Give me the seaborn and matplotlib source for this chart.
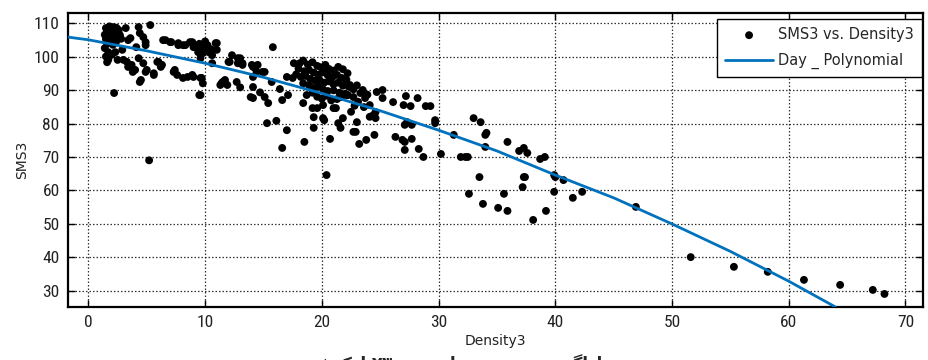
import numpy as np
import pandas as pd
import matplotlib
matplotlib.use("Agg")
import matplotlib.pyplot as plt
from matplotlib import font_manager
import seaborn as sns

# ---------------- data ----------------
density = [
    1.5, 1.8, 2.1, 2.4, 1.6, 1.9, 2.2, 2.6, 1.4, 1.7, 2.0, 2.3, 2.7, 1.5, 1.9, 2.4, 2.8, 1.6, 2.1, 1.4,
    1.7, 2.3, 2.9, 1.5, 1.7, 2.5, 1.6, 2.0, 2.2,
    3.2, 3.4, 3.6, 3.0, 3.3, 3.4, 3.7, 3.8, 4.0, 4.3, 4.4, 4.7, 4.9, 4.9, 4.1, 5.3, 4.3, 4.7, 4.9, 5.0,
    4.4, 4.5, 5.6, 5.6, 5.2,
    5.9, 6.0, 6.3, 6.2, 6.4, 6.6, 7.0, 7.1, 7.3, 7.4, 7.6, 7.7, 7.7, 8.1, 8.3, 8.1, 8.5, 8.7, 8.9, 8.9,
    9.0, 9.0,
    9.2, 9.4, 9.6, 9.8, 9.8, 10.2, 10.3, 10.6, 10.9, 11.0, 11.0, 9.5, 10.0, 10.5, 10.6, 9.6, 9.7, 9.8,
    9.5, 9.6,
    11.3, 11.4, 11.5, 11.6, 11.7, 11.9, 12.0, 12.1, 12.3, 12.7, 12.8, 12.8, 13.0, 13.0, 13.2, 13.2, 13.9,
    14.0, 14.1, 14.1, 14.1, 14.1, 14.3, 14.4, 14.5, 14.7, 14.9, 15.1, 15.1, 15.3, 15.4, 15.7, 15.8, 16.1,
    16.4, 16.6, 16.6, 17.0, 17.1, 17.0, 17.5,
    17.6, 18.1, 18.4, 18.8, 19.2, 19.6, 19.9, 20.3, 20.6, 21.0, 21.4, 21.8, 22.2, 18.0, 18.5, 18.9, 19.3,
    19.7, 20.1, 20.5, 20.9, 21.3, 21.7, 22.1, 17.8, 18.2, 18.6, 19.0, 19.4, 19.8, 20.2, 20.6, 21.0, 21.4,
    21.8, 22.3, 18.4, 18.9, 19.3, 19.7, 20.1, 20.5, 21.0, 21.5, 22.0, 18.7, 19.2, 19.6, 20.0, 20.4, 20.8,
    21.3, 21.7, 22.2, 18.4, 19.2, 19.6, 20.1, 21.0, 21.2, 19.3, 20.1, 20.2, 21.4, 21.6, 21.8, 19.3, 18.5,
    20.4, 20.7, 22.7, 22.9, 23.2, 23.8, 24.5, 23.0,
    22.4, 22.7, 23.0, 23.3, 23.7, 23.5, 23.9, 24.1, 23.6, 24.4, 24.6, 24.6, 24.1, 24.7, 25.2, 25.2, 22.2,
    22.7, 21.7, 22.8, 23.1, 22.5,
    26.1, 27.0, 27.2, 27.6, 28.2, 28.9, 29.3, 27.3, 27.1, 27.7, 26.3, 26.9, 27.1, 27.1, 27.7, 28.3, 28.7,
    29.7, 29.7, 30.2,
    31.3, 31.9, 32.3, 32.5, 33.0, 33.6, 34.0, 34.1, 34.0, 33.5, 32.6, 33.8, 35.1, 35.9, 35.6, 35.9, 36.9,
    37.3, 37.6, 37.3, 37.4, 37.2, 38.1, 38.7, 39.1, 39.2, 39.9, 40.0, 39.9, 40.7, 41.5, 42.3,
    46.9, 51.6, 55.3, 58.2, 61.3, 64.4, 67.2, 68.2,
]
sms = [
    108.5, 109.0, 108.8, 108.6, 107.5, 107.8, 107.4, 107.9, 106.5, 106.2, 106.6, 106.0, 106.4, 105.2, 105.0,
    104.6, 105.3, 103.8, 103.5, 102.5, 101.3, 101.3, 102.0, 100.0, 99.0, 99.0, 98.3, 100.5, 89.1,
    108.5, 104.9, 105.5, 99.0, 98.4, 96.9, 97.5, 95.4, 96.0, 108.8, 107.0, 105.8, 104.3, 103.4, 102.8, 109.4,
    99.5, 98.0, 95.4, 96.0, 92.4, 93.0, 95.0, 94.5, 69.0,
    98.4, 98.4, 97.5, 96.9, 104.9, 104.9, 104.3, 104.3, 95.4, 96.0, 94.5, 103.4, 104.0, 103.4, 103.4, 93.6,
    93.9, 104.3, 104.3, 94.5, 102.8, 93.9,
    102.8, 101.3, 99.5, 101.0, 102.5, 103.4, 101.3, 100.4, 104.0, 102.0, 104.0, 103.8, 104.5, 102.2, 98.0,
    93.6, 93.6, 92.0, 88.5, 88.5,
    91.5, 92.0, 92.4, 92.4, 93.0, 91.5, 98.4, 98.4, 100.4, 92.4, 99.5, 98.0, 99.5, 90.8, 97.5, 98.0, 87.9,
    97.5, 96.9, 93.9, 90.9, 87.6, 96.6, 95.4, 97.5, 89.3, 95.4, 95.4, 87.9, 80.1, 86.1, 92.4, 102.8, 80.8,
    90.3, 87.0, 72.7, 78.0, 88.5, 93.9, 93.6,
    98.0, 98.0, 98.8, 97.6, 98.3, 97.2, 96.8, 97.5, 96.3, 95.8, 96.9, 96.2, 95.0, 96.4, 95.6, 96.0, 95.2,
    94.6, 95.3, 94.4, 93.8, 94.5, 93.6, 93.1, 94.7, 93.9, 94.2, 93.3, 92.8, 93.0, 92.2, 92.6, 91.7, 92.2,
    91.3, 91.0, 92.0, 91.4, 90.6, 91.0, 90.2, 89.7, 89.9, 89.2, 88.9, 88.5, 89.2, 88.0, 87.4, 88.3, 86.9,
    87.3, 87.9, 88.5, 86.1, 84.6, 84.6, 85.5, 84.6, 84.6, 81.9, 81.6, 81.0, 80.1, 78.7, 81.6, 78.7, 74.5,
    64.6, 75.4, 77.5, 77.5, 73.9, 75.1, 76.6, 80.4,
    91.5, 90.2, 91.4, 89.1, 87.6, 90.0, 88.6, 85.5, 84.9, 82.5, 81.6, 83.4, 82.0, 89.4, 90.0, 87.6, 88.5,
    87.9, 87.9, 85.3, 86.5, 83.5,
    86.4, 85.5, 88.2, 85.2, 87.6, 85.2, 85.2, 80.4, 79.6, 79.6, 76.0, 75.1, 74.5, 72.1, 75.4, 72.4, 70.0,
    81.0, 80.1, 70.9,
    76.6, 70.0, 70.0, 70.0, 81.6, 80.4, 76.6, 77.2, 73.0, 64.0, 59.0, 56.0, 54.8, 53.9, 59.0, 74.5, 71.8,
    72.7, 71.2, 64.0, 64.0, 61.0, 51.2, 69.4, 70.0, 53.9, 64.6, 64.0, 59.6, 63.1, 57.8, 59.6,
    55.1, 40.1, 37.2, 35.7, 33.3, 31.8, 30.3, 29.1,
]

# fitted polynomial curve
fit_x = [-1.75, 0, 5, 10, 15, 20, 25, 30, 35, 40, 45, 50, 55, 60, 64.0]
fit_y = [105.8, 105.0, 101.7, 98.0, 93.8, 89.0, 83.8, 78.0, 71.8, 64.6, 57.8, 50.0, 41.8, 32.9, 25.2]

x_ticks = [0, 10, 20, 30, 40, 50, 60, 70]
y_ticks = [30, 40, 50, 60, 70, 80, 90, 100, 110]

pts = pd.DataFrame({"Density3": density, "SMS3": sms})
fit = pd.DataFrame({"Density3": fit_x, "SMS3": fit_y})

# ---------------- figure ----------------
sns.set_theme(style="white")
plt.rcParams["font.family"] = ["DejaVu Sans"]

# pick a narrow face for the tick labels if one is installed
installed = {f.name for f in font_manager.fontManager.ttflist}
narrow = None
for cand in ["Liberation Sans Narrow", "Roboto Condensed", "Open Sans Condensed", "DejaVu Sans"]:
    if cand in installed:
        narrow = cand
        break

fig = plt.figure(figsize=(9.29, 3.60), dpi=100)
ax = fig.add_axes([68 / 929, 53 / 360, (923 - 68) / 929, (307 - 13) / 360])

sns.scatterplot(data=pts, x="Density3", y="SMS3", ax=ax, color="black", s=32,
                edgecolor="none", label="SMS3 vs. Density3", zorder=3)
sns.lineplot(data=fit, x="Density3", y="SMS3", ax=ax, color="#0072BD", linewidth=2.0,
             label="Day _ Polynomial", zorder=4, sort=False, estimator=None)

ax.set_xlim(-1.75, 71.5)
ax.set_ylim(25.2, 113.0)
ax.set_xticks(x_ticks)
ax.set_yticks(y_ticks)

for lab in ax.get_xticklabels() + ax.get_yticklabels():
    lab.set_family(narrow)
    if narrow == "DejaVu Sans":
        lab.set_fontstretch("condensed")
        lab.set_fontsize(11)
    else:
        lab.set_fontsize(12.5)
    lab.set_color("#222222")

ax.tick_params(direction="in", length=5, width=1.0, top=True, right=True,
               bottom=True, left=True, colors="black", labelcolor="#222222", pad=6)
ax.grid(True, linestyle=(0, (1.2, 1.6)), color="black", linewidth=0.9, alpha=0.8)
ax.set_axisbelow(True)
for sp in ax.spines.values():
    sp.set_color("black")
    sp.set_linewidth(1.6)

ax.set_xlabel("Density3", fontsize=10, color="#222222", labelpad=3)
ax.set_ylabel("SMS3", fontsize=10, color="#222222")
ax.yaxis.set_label_coords((29 - 68) / 855, 0.5)

leg = ax.legend(loc="upper right", bbox_to_anchor=((922 - 68) / 855, 1 - 6 / 294),
                borderaxespad=0.0, fontsize=10.5, frameon=True, fancybox=False,
                edgecolor="black", framealpha=1.0, handlelength=3.3, handletextpad=0.35,
                borderpad=0.55, labelspacing=0.75, markerscale=1.0)
leg.get_frame().set_linewidth(1.0)

# caption below the chart (cut by the image edge, as in the reference)
fig.text(0.5, -0.012, "شکل ۲۳- نمودار سرعت و چگالی", ha="center", va="center",
         fontsize=12, fontweight="bold", family=["DejaVu Sans"])

fig.savefig("out.png", dpi=100)
